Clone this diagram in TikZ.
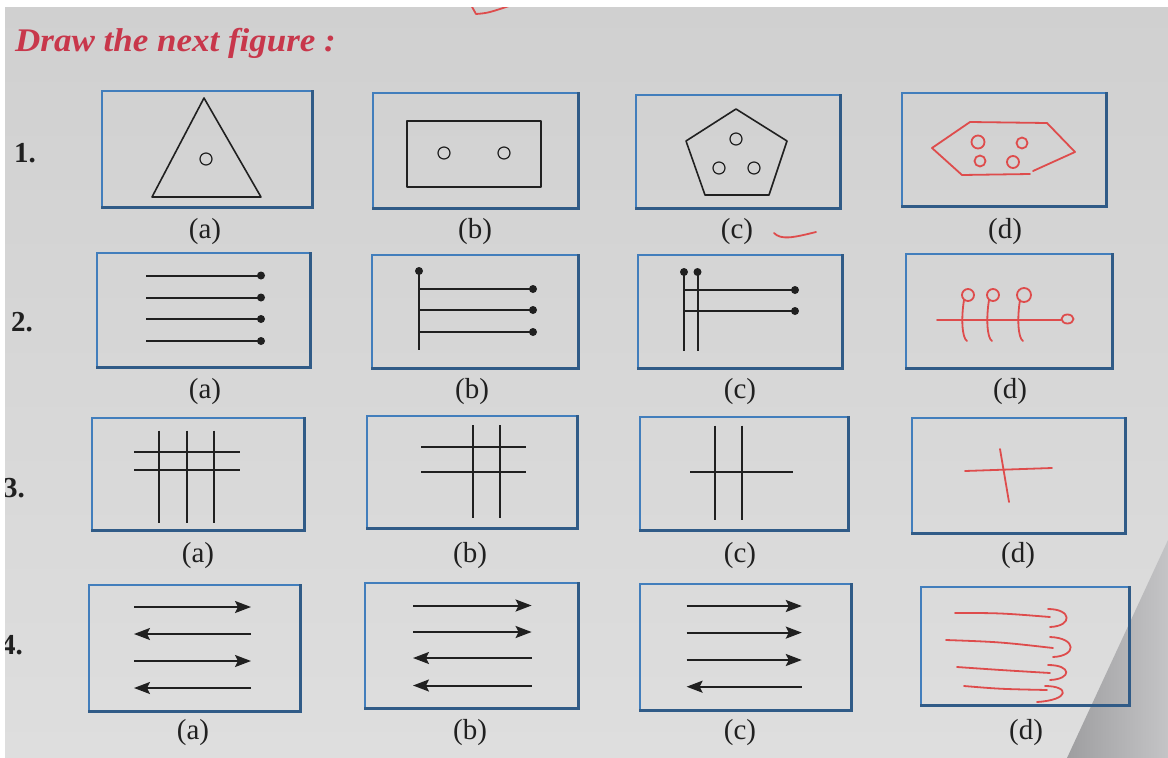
\documentclass[tikz,border=0pt]{standalone}
\usepackage{fontspec}
\setmainfont{Liberation Serif}
\newfontfamily\headfont[FakeStretch=1.06]{Liberation Serif}
\usepackage{tikz}
\usetikzlibrary{arrows.meta,calc}
\definecolor{paper}{RGB}{222,222,222}
\definecolor{paperdark}{RGB}{208,208,208}
\definecolor{folddark}{RGB}{158,158,160}
\definecolor{foldlight}{RGB}{196,196,198}
\definecolor{boxblue}{RGB}{66,126,188}
\definecolor{ink}{RGB}{32,32,32}
\definecolor{pen}{RGB}{222,76,76}
\definecolor{head}{RGB}{200,55,75}
\newcommand{\pnl}[5]{\node[panel,minimum width={(#4-#2)*1pt},minimum height={(#5-#3)*1pt}] (#1) at ({(#2+#4)/2},{(#3+#5)/2}) {};}

\begin{document}
\begin{tikzpicture}[x=1pt,y=-1pt,
  panel/.style={draw=boxblue,line width=1.3pt,inner sep=0pt},
  rim/.style={draw=boxblue!72!black,line width=3pt},
  fig/.style={draw=ink,line width=1.6pt,line join=round},
  bar/.style={draw=ink,line width=2pt},
  pen/.style={draw=pen,line width=1.8pt,line cap=round,line join=round},
  lab/.style={text=ink,inner sep=0pt,font=\fontsize{29}{31}\selectfont},
  num/.style={text=ink,inner sep=0pt,font=\bfseries\fontsize{29}{31}\selectfont},
  arr/.style={bar,-{Stealth[length=16pt,width=12pt,inset=3pt]}}]

\useasboundingbox (0,0) rectangle (1168,758);
\shade[top color=paperdark,bottom color=paper] (0,0) rectangle (1168,758);
\shade[left color=folddark,right color=foldlight] (1168,540) -- (1067,758) -- (1168,758) -- cycle;

% title and rows
\node[anchor=base west,inner sep=0pt,text=head,font=\headfont\bfseries\itshape\fontsize{33}{35}\selectfont] (title) at (15,51) {Draw the next figure :};
\node[num] (n1) at (25,153) {1.};
\node[num] (n2) at (22,322) {2.};
\node[num] (n3) at (14,488) {3.};
\node[num] (n4) at (12,645) {4.};

% panels
\pnl{p1a}{102}{91}{312}{207}
\pnl{p1b}{373}{93}{578}{208}
\pnl{p1c}{636}{95}{840}{208}
\pnl{p1d}{902}{93}{1106}{206}
\pnl{p2a}{97}{253}{310}{367}
\pnl{p2b}{372}{255}{578}{368}
\pnl{p2c}{638}{255}{842}{368}
\pnl{p2d}{906}{254}{1112}{368}
\pnl{p3a}{92}{418}{304}{530}
\pnl{p3b}{367}{416}{577}{528}
\pnl{p3c}{640}{417}{848}{530}
\pnl{p3d}{912}{418}{1125}{533}
\pnl{p4a}{89}{585}{300}{711}
\pnl{p4b}{365}{583}{578}{708}
\pnl{p4c}{640}{584}{851}{710}
\pnl{p4d}{921}{587}{1129}{705}
\foreach \p in {p1a,p1b,p1c,p1d,p2a,p2b,p2c,p2d,p3a,p3b,p3c,p3d,p4a,p4b,p4c,p4d}
  \draw[rim] (\p.north east) -- (\p.south east) -- (\p.south west);

% labels
\foreach \r/\y/\xa/\xb/\xc/\xd in {1/232/205/475/737/1005,2/392/205/472/740/1010,3/556/198/470/740/1018,4/733/193/470/740/1026}{
  \node[lab] (l\r a) at (\xa,\y) {(a)};
  \node[lab] (l\r b) at (\xb,\y) {(b)};
  \node[lab] (l\r c) at (\xc,\y) {(c)};
  \node[lab] (l\r d) at (\xd,\y) {(d)};
}

% row 1
\draw[fig] (204,98) -- (261,197) -- (152,197) -- cycle;
\draw[fig,line width=1.2pt] (206,159) circle (6);
\draw[fig] (407,121) rectangle (541,187);
\draw[fig,line width=1.2pt] (444,153) circle (6) (504,153) circle (6);
\draw[fig] (736,109) -- (787,141) -- (769,195) -- (705,195) -- (686,141) -- cycle;
\draw[fig,line width=1.2pt] (736,139) circle (6) (719,168) circle (6) (754,168) circle (6);
\draw[pen] (932,148) -- (970,122) -- (1047,123) -- (1075,152) -- (1033,171);
\draw[pen] (1030,174) -- (962,175) -- (932,148);
\draw[pen] (978,142) circle (6.5) (1022,143) circle (5.5) (980,161) circle (5.5) (1013,162) circle (6);
\draw[pen] (774,233) .. controls (781,240) and (792,238) .. (816,232);

% row 2
\foreach \y in {275.5,297.5,319,341}{
  \draw[bar] (146,\y) -- (261,\y);
  \fill[ink] (261,\y) circle (4);
}
\draw[bar] (419,271) -- (419,350);
\fill[ink] (419,271) circle (4);
\foreach \y in {289,310,332}{
  \draw[bar] (419,\y) -- (533,\y);
  \fill[ink] (533,\y) circle (4);
}
\foreach \x in {684,697.5}{
  \draw[bar] (\x,272) -- (\x,351);
  \fill[ink] (\x,272) circle (4);
}
\foreach \y in {290,311}{
  \draw[bar] (684,\y) -- (795,\y);
  \fill[ink] (795,\y) circle (4);
}
\draw[pen] (937,320) -- (1061,320);
\draw[pen] (1067.5,319) ellipse (6 and 4.5);
\foreach \x/\r in {968/6,993/6,1024/7}{
  \draw[pen] (\x,295) circle (\r);
  \draw[pen] (\x-4,300) .. controls (\x-7,318) and (\x-6,338) .. (\x-1,341);
}

% row 3
\foreach \y in {452,469.5}
  \draw[bar] (134,\y) -- (240,\y);
\foreach \x in {159,186.5,214}
  \draw[bar] (\x,430.5) -- (\x,523);
\foreach \y in {446.5,471.5}
  \draw[bar] (421,\y) -- (526,\y);
\foreach \x in {473,500}
  \draw[bar] (\x,425) -- (\x,518);
\draw[bar] (690,472) -- (793,472);
\foreach \x in {715,741.5}
  \draw[bar] (\x,425.5) -- (\x,519.5);
\draw[pen] (965,471) -- (1052,468);
\draw[pen] (1000,449) -- (1009,502);

% row 4
\foreach \y/\s in {607/1,634/-1,661/1,688/-1}
  \draw[arr] ({192.5-\s*58.5},\y) -- ({192.5+\s*58.5},\y);
\foreach \y/\s in {605.5/1,632/1,658/-1,685.5/-1}
  \draw[arr] ({472.3-\s*59.3},\y) -- ({472.3+\s*59.3},\y);
\foreach \y/\s in {606/1,632.6/1,660/1,686.7/-1}
  \draw[arr] ({744.2-\s*57.6},\y) -- ({744.2+\s*57.6},\y);
\draw[pen] (955,613) .. controls (1000,613) .. (1050,617);
\draw[pen] (1048,609) .. controls (1072,609) and (1073,626) .. (1050,627);
\draw[pen] (946,640) .. controls (1000,642) .. (1053,648);
\draw[pen] (1050,637) .. controls (1077,638) and (1077,656) .. (1053,657);
\draw[pen] (957,667) .. controls (1000,670) .. (1050,673);
\draw[pen] (1048,665) .. controls (1072,665) and (1072,679) .. (1050,680);
\draw[pen] (964,686) .. controls (1000,689) .. (1047,690);
\draw[pen] (1045,686) .. controls (1070,686) and (1070,700) .. (1037,702);

% mark at the top edge
\draw[pen] (471,5) -- (476,14) .. controls (488,13) .. (512,5);
\fill[white] (0,0) rectangle (1168,7);
\fill[white] (0,0) rectangle (5,758);

\end{tikzpicture}
\end{document}
